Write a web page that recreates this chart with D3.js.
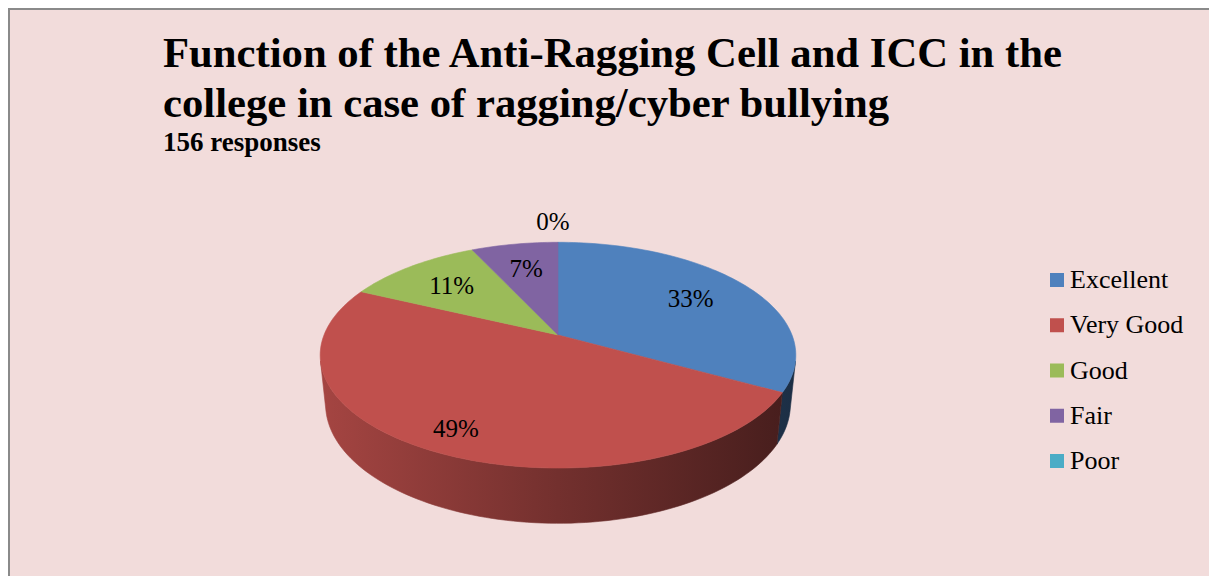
<!DOCTYPE html>
<html>
<head>
<meta charset="utf-8">
<script src="https://cdn.jsdelivr.net/npm/d3@7/dist/d3.min.js"></script>
<style>
  html, body { margin: 0; padding: 0; background: #ffffff; }
  svg { display: block; }
  .serif { font-family: "Liberation Serif", "Tinos", "Times New Roman", "DejaVu Serif", "Noto Serif", serif; }
</style>
</head>
<body>
<svg id="chart" width="1209" height="576"></svg>
<script>
// ---- data ----
const categories = ["Excellent", "Very Good", "Good", "Fair", "Poor"];
const percentValues = [33, 49, 11, 7, 0];
const sliceColors = ["#4F81BD", "#C0504D", "#9BBB59", "#8064A2", "#4BACC6"];
const titleLines = ["Function of the Anti-Ragging Cell and ICC in the", "college in case of ragging/cyber bullying"];
const subtitle = "156 responses";

// ---- layout ----
const W = 1209, H = 576;
const svg = d3.select("#chart");

svg.append("rect").attr("x", 0).attr("y", 0).attr("width", W).attr("height", H).attr("fill", "#ffffff");
svg.append("rect").attr("x", 9).attr("y", 9).attr("width", W + 20).attr("height", H + 20)
  .attr("fill", "#F2DCDB").attr("stroke", "#8a8a8a").attr("stroke-width", 2);

// title
const title = svg.append("g").attr("class", "serif").style("font-weight", "bold").attr("fill", "#000");
title.selectAll("text.t").data(titleLines).join("text").attr("class", "t")
  .attr("x", 163).attr("y", (d, i) => 67 + i * 49.5)
  .style("font-size", "42.7px")
  .text(d => d);
title.append("text").attr("x", 163).attr("y", 150.5).style("font-size", "27px").text(subtitle);

// ---- 3D pie projection ----
const cx = 558, cy = 335, k = 234;
const sinA = 0.467, cosA = Math.sqrt(1 - sinA * sinA);
const Dcam = 4.95, thick = 0.24;
function proj(u, v, h) {
  const ys = v * sinA - h * cosA;
  const z = v * cosA + h * sinA;
  const s = Dcam / (Dcam - z);
  return [cx + k * u * s, cy + k * ys * s];
}
function ptAt(phi, r, h) { return proj(r * Math.sin(phi), -r * Math.cos(phi), h); }

const pie = d3.pie().sort(null).value(d => d.value).startAngle(0).endAngle(2 * Math.PI);
const arcs = pie(categories.map((c, i) => ({ name: c, value: percentValues[i], i })));
const color = d3.scaleOrdinal().domain(categories).range(sliceColors);

const line = d3.line();
const N = 240;
function sample(a, b) {
  const n = Math.max(2, Math.ceil(N * (b - a) / (2 * Math.PI)));
  return d3.range(n + 1).map(j => a + (b - a) * j / n);
}

// gradients for side walls
const defs = svg.append("defs");
arcs.forEach(d => {
  const c = d3.rgb(color(d.data.name));
  const g = defs.append("linearGradient").attr("id", "side" + d.data.i)
    .attr("gradientUnits", "userSpaceOnUse")
    .attr("x1", cx - k * 1.02).attr("y1", 0).attr("x2", cx + k * 1.02).attr("y2", 0);
  const f = [[0, 0.86], [0.5, 0.6], [1, 0.36]];
  f.forEach(([o, m]) => g.append("stop").attr("offset", o)
    .attr("stop-color", d3.rgb(c.r * m, c.g * m, c.b * m).formatHex()));
});

// visible side range (silhouette under perspective)
const phiS = Math.acos(-1 / (Dcam * cosA));
const visA = phiS, visB = 2 * Math.PI - phiS;

const sideG = svg.append("g");
arcs.forEach(d => {
  const a = Math.max(d.startAngle, visA), b = Math.min(d.endAngle, visB);
  if (b <= a) return;
  const angs = sample(a, b);
  const top = angs.map(p => ptAt(p, 1, 0));
  const bot = angs.slice().reverse().map(p => ptAt(p, 1, -thick));
  sideG.append("path").attr("d", line(top.concat(bot)) + "Z")
    .attr("fill", "url(#side" + d.data.i + ")")
    .attr("stroke", "url(#side" + d.data.i + ")").attr("stroke-width", 0.6);
});

// top faces
const topG = svg.append("g");
arcs.forEach(d => {
  if (d.endAngle - d.startAngle <= 0) return;
  const pts = [proj(0, 0, 0)].concat(sample(d.startAngle, d.endAngle).map(p => ptAt(p, 1, 0)));
  topG.append("path").attr("d", line(pts) + "Z")
    .attr("fill", color(d.data.name)).attr("stroke", color(d.data.name)).attr("stroke-width", 0.6);
});

// labels (inside, pushed outward for front-facing slices; zero slices outside)
const labG = svg.append("g").attr("class", "serif").style("font-size", "25px").attr("fill", "#000")
  .attr("text-anchor", "middle");
arcs.forEach(d => {
  const mid = (d.startAngle + d.endAngle) / 2;
  const r = d.data.value === 0 ? 1.27 : 0.7 + 0.15 * Math.max(0, -Math.cos(mid));
  const [x, y] = ptAt(mid, r, 0);
  labG.append("text").attr("x", x - (d.data.value === 0 ? 5 : 0)).attr("y", y + 8.5)
    .text(d3.format(".0f")(d.data.value) + "%");
});

// legend
const leg = svg.append("g").attr("class", "serif").style("font-size", "26px");
const ly = d3.scalePoint().domain(categories).range([280, 461]);
categories.forEach(c => {
  leg.append("rect").attr("x", 1050).attr("y", ly(c) - 7).attr("width", 14).attr("height", 14).attr("fill", color(c));
  leg.append("text").attr("x", 1070).attr("y", ly(c) + 8).text(c);
});
</script>
</body>
</html>
